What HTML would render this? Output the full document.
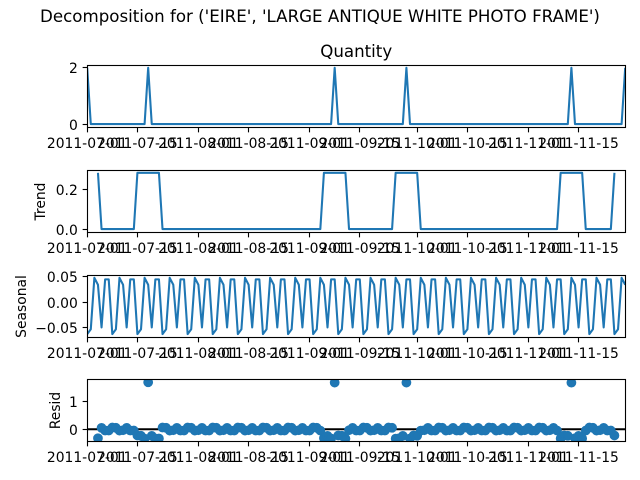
<!DOCTYPE html>
<html lang="en">
<head>
<meta charset="utf-8">
<title>Decomposition chart</title>
<style>
html,body{margin:0;padding:0;background:#fff;width:640px;height:480px;overflow:hidden}
svg{display:block}
text{font-family:"DejaVu Sans","Liberation Sans",sans-serif;fill:#000}
</style>
</head>
<body>
<svg id="chart" xmlns="http://www.w3.org/2000/svg" width="640" height="480" viewBox="0 0 640 480">
<text x="320" y="22" text-anchor="middle" font-size="16.67">Decomposition for ('EIRE', 'LARGE ANTIQUE WHITE PHOTO FRAME')</text>
</svg>
<script>
const startDate = "2011-07-01";
const endDate = "2011-11-28";
const xTickLabels = ["2011-07-01","2011-07-15","2011-08-01","2011-08-15","2011-09-01","2011-09-15","2011-10-01","2011-10-15","2011-11-01","2011-11-15"];

const quantityTicks = [0, 2];
const quantityTickLabels = ["0", "2"];
const trendTicks = [0, 0.2];
const trendTickLabels = ["0.0", "0.2"];
const seasonalTicks = [-0.05, 0, 0.05];
const seasonalTickLabels = ["\u22120.05", "0.00", "0.05"];
const residTicks = [0, 1];
const residTickLabels = ["0", "1"];

const quantity = [
2,0,0,0,0,0,0,
0,0,0,0,0,0,0,
0,0,0,2,0,0,0,
0,0,0,0,0,0,0,
0,0,0,0,0,0,0,
0,0,0,0,0,0,0,
0,0,0,0,0,0,0,
0,0,0,0,0,0,0,
0,0,0,0,0,0,0,
0,0,0,0,0,0,2,
0,0,0,0,0,0,0,
0,0,0,0,0,0,0,
0,0,0,0,0,2,0,
0,0,0,0,0,0,0,
0,0,0,0,0,0,0,
0,0,0,0,0,0,0,
0,0,0,0,0,0,0,
0,0,0,0,0,0,0,
0,0,0,0,0,0,0,
0,0,2,0,0,0,0,
0,0,0,0,0,0,0,
0,0,0,2];

const trend = [
null,null,null,0.2857,0,0,0,
0,0,0,0,0,0,0,
0.2857,0.2857,0.2857,0.2857,0.2857,0.2857,0.2857,
0,0,0,0,0,0,0,
0,0,0,0,0,0,0,
0,0,0,0,0,0,0,
0,0,0,0,0,0,0,
0,0,0,0,0,0,0,
0,0,0,0,0,0,0,
0,0,0,0.2857,0.2857,0.2857,0.2857,
0.2857,0.2857,0.2857,0,0,0,0,
0,0,0,0,0,0,0,
0,0,0.2857,0.2857,0.2857,0.2857,0.2857,
0.2857,0.2857,0,0,0,0,0,
0,0,0,0,0,0,0,
0,0,0,0,0,0,0,
0,0,0,0,0,0,0,
0,0,0,0,0,0,0,
0,0,0,0,0,0,0.2857,
0.2857,0.2857,0.2857,0.2857,0.2857,0.2857,0,
0,0,0,0,0,0,0,
0.2857,null,null,null];

const seasonal = [
-0.063,-0.0535,0.0476,0.034,-0.05,0.0445,0.0445,
-0.063,-0.0535,0.0476,0.034,-0.05,0.0445,0.0445,
-0.063,-0.0535,0.0476,0.034,-0.05,0.0445,0.0445,
-0.063,-0.0535,0.0476,0.034,-0.05,0.0445,0.0445,
-0.063,-0.0535,0.0476,0.034,-0.05,0.0445,0.0445,
-0.063,-0.0535,0.0476,0.034,-0.05,0.0445,0.0445,
-0.063,-0.0535,0.0476,0.034,-0.05,0.0445,0.0445,
-0.063,-0.0535,0.0476,0.034,-0.05,0.0445,0.0445,
-0.063,-0.0535,0.0476,0.034,-0.05,0.0445,0.0445,
-0.063,-0.0535,0.0476,0.034,-0.05,0.0445,0.0445,
-0.063,-0.0535,0.0476,0.034,-0.05,0.0445,0.0445,
-0.063,-0.0535,0.0476,0.034,-0.05,0.0445,0.0445,
-0.063,-0.0535,0.0476,0.034,-0.05,0.0445,0.0445,
-0.063,-0.0535,0.0476,0.034,-0.05,0.0445,0.0445,
-0.063,-0.0535,0.0476,0.034,-0.05,0.0445,0.0445,
-0.063,-0.0535,0.0476,0.034,-0.05,0.0445,0.0445,
-0.063,-0.0535,0.0476,0.034,-0.05,0.0445,0.0445,
-0.063,-0.0535,0.0476,0.034,-0.05,0.0445,0.0445,
-0.063,-0.0535,0.0476,0.034,-0.05,0.0445,0.0445,
-0.063,-0.0535,0.0476,0.034,-0.05,0.0445,0.0445,
-0.063,-0.0535,0.0476,0.034,-0.05,0.0445,0.0445,
-0.063,-0.0535,0.0476,0.034];

const resid = [
null,null,null,-0.3197,0.05,-0.0445,-0.0445,
0.063,0.0535,-0.0476,-0.034,0.05,-0.0445,-0.0445,
-0.2227,-0.2322,-0.3333,1.6803,-0.2357,-0.3302,-0.3302,
0.063,0.0535,-0.0476,-0.034,0.05,-0.0445,-0.0445,
0.063,0.0535,-0.0476,-0.034,0.05,-0.0445,-0.0445,
0.063,0.0535,-0.0476,-0.034,0.05,-0.0445,-0.0445,
0.063,0.0535,-0.0476,-0.034,0.05,-0.0445,-0.0445,
0.063,0.0535,-0.0476,-0.034,0.05,-0.0445,-0.0445,
0.063,0.0535,-0.0476,-0.034,0.05,-0.0445,-0.0445,
0.063,0.0535,-0.0476,-0.3197,-0.2357,-0.3302,1.6698,
-0.2227,-0.2322,-0.3333,-0.034,0.05,-0.0445,-0.0445,
0.063,0.0535,-0.0476,-0.034,0.05,-0.0445,-0.0445,
0.063,0.0535,-0.3333,-0.3197,-0.2357,1.6698,-0.3302,
-0.2227,-0.2322,-0.0476,-0.034,0.05,-0.0445,-0.0445,
0.063,0.0535,-0.0476,-0.034,0.05,-0.0445,-0.0445,
0.063,0.0535,-0.0476,-0.034,0.05,-0.0445,-0.0445,
0.063,0.0535,-0.0476,-0.034,0.05,-0.0445,-0.0445,
0.063,0.0535,-0.0476,-0.034,0.05,-0.0445,-0.0445,
0.063,0.0535,-0.0476,-0.034,0.05,-0.0445,-0.3302,
-0.2227,-0.2322,1.6667,-0.3197,-0.2357,-0.3302,-0.0445,
0.063,0.0535,-0.0476,-0.034,0.05,-0.0445,-0.0445,
-0.2227,null,null,null];

const NS = "http://www.w3.org/2000/svg";
const svg = document.getElementById("chart");
const BLUE = "#1f77b4";
const LEFT = 87.5, RIGHT = 625.5;
const DATA_DX = 0.3;
const DAY = 86400000;
const t0 = Date.parse(startDate);
const totalDays = (Date.parse(endDate) - t0) / DAY;

function xScale(day) {
  return LEFT - DATA_DX + (day / totalDays) * (RIGHT - LEFT);
}
function makeYScale(values, top, bottom) {
  const nums = values.filter(function (v) { return v !== null; });
  const lo = Math.min.apply(null, nums);
  const hi = Math.max.apply(null, nums);
  const pad = (hi - lo) * 0.05 || 1;
  return function (v) {
    return bottom - ((v - (lo - pad)) / ((hi + pad) - (lo - pad))) * (bottom - top);
  };
}
function mk(tag, attrs, parent) {
  const el = document.createElementNS(NS, tag);
  for (const k in attrs) el.setAttribute(k, attrs[k]);
  parent.appendChild(el);
  return el;
}

function drawPanel(cfg) {
  const top = cfg.top, bottom = cfg.bottom;
  const shift = cfg.yShift || 0;
  const y = makeYScale(cfg.values, top - 0.5 + shift, bottom - 0.6 + shift);

  const g = mk("g", {}, svg);
  
  

  const clipId = "clip-" + cfg.key;
  const clip = mk("clipPath", { id: clipId }, g);
  mk("rect", { x: LEFT, y: top, width: RIGHT - LEFT, height: bottom - top }, clip);

  const plot = mk("g", { "clip-path": "url(#" + clipId + ")" }, g);
  
  

  if (cfg.zeroLine) {
    const zero = mk("line", { x1: LEFT, x2: RIGHT, y1: y(0), y2: y(0), stroke: "#000", "stroke-width": 2.08 }, plot);
    
    
  }

  if (cfg.dots) {
    cfg.values.forEach(function (v, i) {
      if (v === null) return;
      const c = mk("circle", { cx: xScale(i), cy: y(v), r: 4.17, fill: BLUE, stroke: BLUE, "stroke-width": 1.39 }, plot);
      
      
    });
  } else {
    let d = "";
    let pen = false;
    cfg.values.forEach(function (v, i) {
      if (v === null) { pen = false; return; }
      d += (pen ? "L" : "M") + xScale(i).toFixed(2) + " " + y(v).toFixed(2);
      pen = true;
    });
    const line = mk("path", { d: d, fill: "none", stroke: BLUE, "stroke-width": 2.08, "stroke-linejoin": "round" }, plot);
    
    
  }

  const frame = mk("rect", { x: LEFT, y: top, width: RIGHT - LEFT, height: bottom - top, fill: "none", stroke: "#000", "stroke-width": 1.11 }, g);
  
  

  xTickLabels.forEach(function (label) {
    const day = (Date.parse(label) - t0) / DAY;
    const px = Math.floor(xScale(day)) + 0.5;
    const tick = mk("line", { x1: px, x2: px, y1: bottom, y2: bottom + 4.86, stroke: "#000", "stroke-width": 1.11 }, g);
    
    
    const t = mk("text", { x: xScale(day), y: bottom + cfg.xLabelOffset, "text-anchor": "middle", "font-size": 13.89 }, g);
    t.textContent = label;
    
    
  });

  cfg.ticks.forEach(function (v, i) {
    const py = Math.floor(y(v)) + 0.5;
    const tick = mk("line", { x1: LEFT - 4.86, x2: LEFT, y1: py, y2: py, stroke: "#000", "stroke-width": 1.11 }, g);
    
    
    const t = mk("text", { x: 77.8, y: py + 5.6, "text-anchor": "end", "font-size": 13.89 }, g);
    t.textContent = cfg.tickLabels[i];
    
    
  });

  if (cfg.yLabel) {
    const cy = (top + bottom) / 2;
    const t = mk("text", { x: cfg.yLabelX, y: cy, "text-anchor": "middle", "font-size": 13.89, transform: "rotate(-90 " + cfg.yLabelX + " " + cy + ")" }, g);
    t.textContent = cfg.yLabel;
    
    
  }
  if (cfg.title) {
    const t = mk("text", { x: (LEFT + RIGHT) / 2 - DATA_DX, y: top - 8.5, "text-anchor": "middle", "font-size": 16.67 }, g);
    t.textContent = cfg.title;
    
    
  }
}

drawPanel({ key: "quantity", top: 65.5, bottom: 127.5, values: quantity, ticks: quantityTicks, tickLabels: quantityTickLabels, title: "Quantity", xLabelOffset: 20.5 });
drawPanel({ key: "trend", top: 170.5, bottom: 232.5, values: trend, ticks: trendTicks, tickLabels: trendTickLabels, yLabel: "Trend", yLabelX: 45, xLabelOffset: 20.5 });
drawPanel({ key: "seasonal", top: 275.5, bottom: 337.5, values: seasonal, ticks: seasonalTicks, tickLabels: seasonalTickLabels, yLabel: "Seasonal", yLabelX: 26, xLabelOffset: 20.5 });
drawPanel({ key: "resid", top: 379.5, bottom: 441.5, yShift: 0.5, values: resid, ticks: residTicks, tickLabels: residTickLabels, yLabel: "Resid", yLabelX: 60, xLabelOffset: 20.5, dots: true, zeroLine: true });
</script>
</body>
</html>
